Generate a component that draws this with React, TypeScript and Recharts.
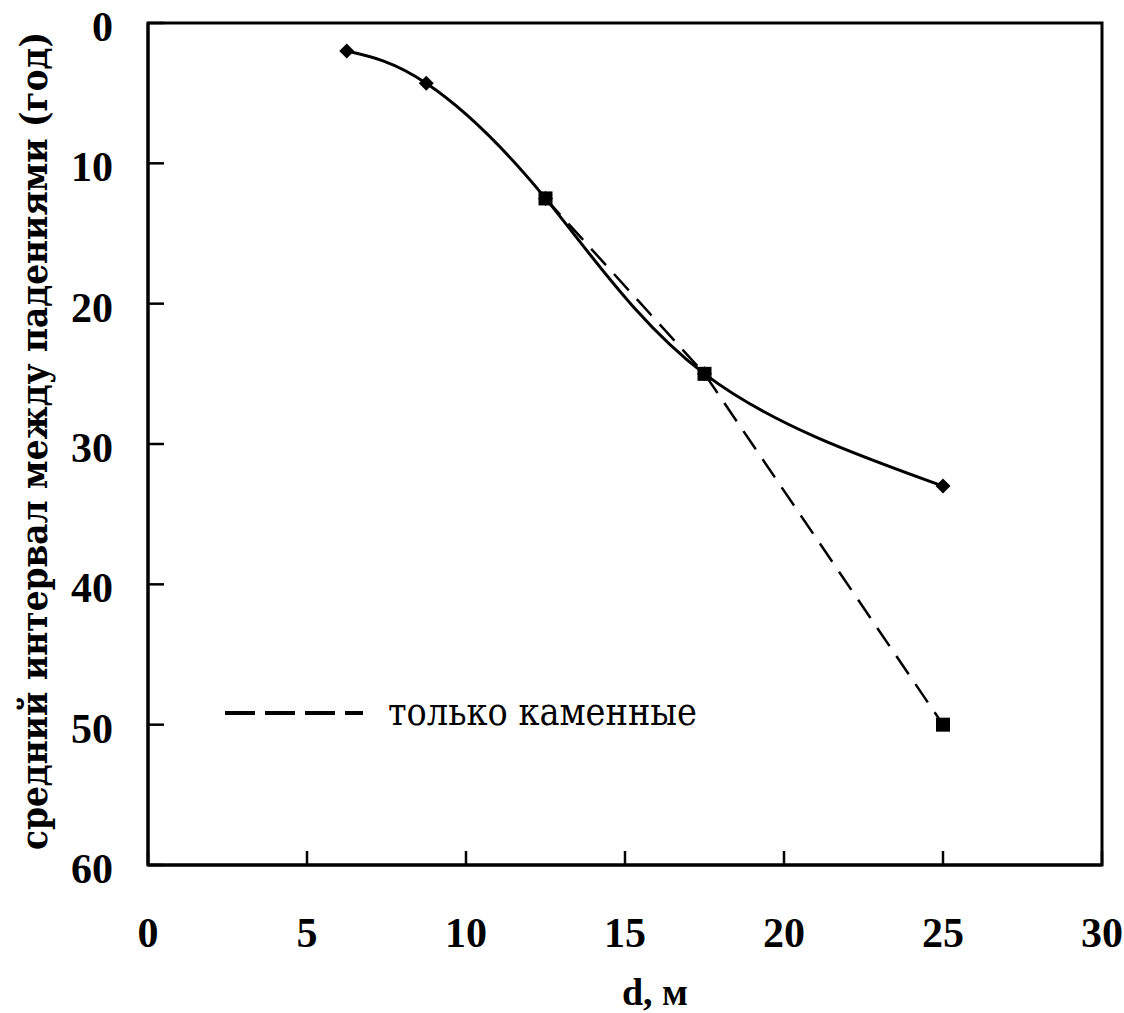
import React from 'react';
import { LineChart, Line, XAxis, YAxis, ReferenceArea, Legend } from 'recharts';

const allX = [6.25, 8.75, 12.5, 17.5, 25];
const allY = [2, 4.3, 12.5, 25, 33];
const stoneX = [12.5, 17.5, 25];
const stoneY = [12.5, 25, 50];
const xTicks = [0, 5, 10, 15, 20, 25, 30];
const yTicks = [0, 10, 20, 30, 40, 50, 60];
const legendLabel = 'только каменные';
const xLabel = 'd, м';
const yLabel = 'средний интервал между падениями (год)';

const allData = allX.map((x, i) => ({ x, y: allY[i] }));
const stoneData = stoneX.map((x, i) => ({ x, y: stoneY[i] }));

const FONT = "'Liberation Serif', 'DejaVu Serif Condensed', 'DejaVu Serif', serif";
const FONT2 = "'DejaVu Serif Condensed', 'DejaVu Serif', serif";

const Diamond = (props: any) => {
  const { cx, cy } = props;
  if (cx == null || cy == null) return null;
  const r = 7.5;
  return <polygon points={`${cx},${cy - r} ${cx + r},${cy} ${cx},${cy + r} ${cx - r},${cy}`} fill="#000" />;
};

const Square = (props: any) => {
  const { cx, cy } = props;
  if (cx == null || cy == null) return null;
  const s = 14;
  return <rect x={cx - s / 2} y={cy - s / 2} width={s} height={s} fill="#000" />;
};

const LegendContent = () => (
  <svg width={520} height={50} style={{ overflow: 'visible', display: 'block' }}>
    <line x1={0} y1={22} x2={138} y2={22} stroke="#000" strokeWidth={4} strokeDasharray="30 10" />
    <text x={163} y={34} style={{ fontFamily: FONT2 }} fontSize={40} fill="#000" textLength={309} lengthAdjust="spacingAndGlyphs">{legendLabel}</text>
  </svg>
);

const XLabel = (props: any) => {
  const vb = props.viewBox;
  return (
    <text x={vb.x + vb.width / 2 + 30} y={vb.y + 140} textAnchor="middle" style={{ fontFamily: FONT }} fontWeight="bold" fontSize={38} fill="#000">
      {xLabel}
    </text>
  );
};

const YLabel = (props: any) => {
  const vb = props.viewBox;
  const cx = vb.x + 47;
  const cy = vb.y + vb.height / 2 - 3;
  return (
    <text x={cx} y={cy} transform={`rotate(-90 ${cx} ${cy})`} textAnchor="middle" style={{ fontFamily: FONT2 }} fontWeight="bold" fontSize={38} fill="#000" textLength={818} lengthAdjust="spacingAndGlyphs">
      {yLabel}
    </text>
  );
};

export default function App() {
  return (
    <div style={{ position: 'absolute', left: 0, top: 0, background: '#fff' }}>
      <LineChart width={1124} height={1013} margin={{ top: 23, right: 22, bottom: 0, left: 0 }}>
        <XAxis
          type="number"
          dataKey="x"
          domain={[0, 30]}
          ticks={xTicks}
          interval={0}
          height={148}
          axisLine={{ stroke: '#000', strokeWidth: 3 }}
          tickLine={{ stroke: '#000', strokeWidth: 2.5 }}
          tickSize={-14}
          tickMargin={66}
          tick={{ fill: '#000', fontFamily: FONT, fontWeight: 'bold', fontSize: 42 }}
          label={{ content: XLabel }}
          allowDataOverflow
        />
        <YAxis
          type="number"
          dataKey="y"
          domain={[0, 60]}
          ticks={yTicks}
          interval={0}
          reversed
          width={148}
          axisLine={{ stroke: '#000', strokeWidth: 3 }}
          tickLine={{ stroke: '#000', strokeWidth: 2.5 }}
          tickSize={-16}
          tickMargin={51}
          tick={{ fill: '#000', fontFamily: FONT, fontWeight: 'bold', fontSize: 42, dy: 3 }}
          label={{ content: YLabel }}
          allowDataOverflow
        />
        <ReferenceArea x1={0} x2={30} y1={0} y2={60} fill="none" fillOpacity={0} stroke="#000" strokeWidth={3} />
        <Legend
          layout="vertical"
          align="center"
          verticalAlign="middle"
          content={LegendContent}
          wrapperStyle={{ left: 225, top: 691, width: 520, height: 50 }}
        />
        <Line
          data={allData}
          dataKey="y"
          type="natural"
          stroke="#000"
          strokeWidth={3}
          dot={<Diamond />}
          activeDot={false}
          isAnimationActive={false}
          legendType="none"
        />
        <Line
          data={stoneData}
          dataKey="y"
          type="linear"
          stroke="#000"
          strokeWidth={2.5}
          strokeDasharray="22 12"
          dot={<Square />}
          activeDot={false}
          isAnimationActive={false}
        />
      </LineChart>
    </div>
  );
}
